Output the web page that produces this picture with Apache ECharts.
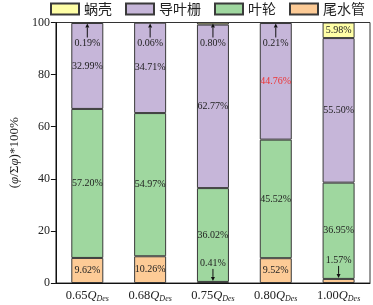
<!DOCTYPE html>
<html>
<head>
  <meta charset="utf-8">
  <title>echarts</title>
  <style type="text/css">
    html, body, #main {
      height: 100%;
      width: 100%;
      margin: 0;
      padding: 0;
      background: #fff;
    }
  </style>
  <script src="https://cdn.jsdelivr.net/npm/echarts@6/dist/echarts.min.js"></script>
</head>
<body>
  <div id="main"></div>
  <script>
    // data
    var categories = ['0.65', '0.68', '0.75', '0.80', '1.00'];
    var volute = [0.19, 0.06, 0.80, 0.21, 5.98];      // 蜗壳
    var guideVane = [32.99, 34.71, 62.77, 44.76, 55.50]; // 导叶栅
    var runner = [57.20, 54.97, 36.02, 45.52, 36.95];  // 叶轮
    var draftTube = [9.62, 10.26, 0.41, 9.52, 1.57];   // 尾水管
    var yTicks = [0, 20, 40, 60, 80, 100];

    var serif = "'Times New Roman', 'Liberation Serif', serif";
    var cjk = "'Noto Sans CJK SC', sans-serif";

    // small shares get an arrow label instead of an inside label
    // row: [category, edge value, share, direction (1 up / -1 down)]
    var arrowData = [];
    categories.forEach(function (c, i) {
      var total = volute[i] + guideVane[i] + runner[i] + draftTube[i];
      if (volute[i] < 1) arrowData.push([c, total, volute[i], 1]);
      if (draftTube[i] < 2) arrowData.push([c, draftTube[i], draftTube[i], -1]);
    });

    function barSeries(name, values, color, labelColors) {
      return {
        name: name,
        type: 'bar',
        stack: 'total',
        barWidth: 32,
        data: values.map(function (v, i) {
          return {
            value: v,
            label: { color: (labelColors && labelColors[i]) || '#222' }
          };
        }),
        itemStyle: { color: color, borderColor: '#3a3a3a', borderWidth: 1 },
        label: {
          show: true,
          position: 'inside',
          fontFamily: serif,
          fontSize: 10,
          formatter: function (p) {
            return p.value >= 2 ? p.value.toFixed(2) + '%' : '';
          }
        }
      };
    }

    var myChart = echarts.init(document.getElementById('main'));
    myChart.setOption({
      animation: false,
      legend: {
        top: 2,
        left: 50,
        width: 330,
        padding: 0,
        itemWidth: 28,
        itemHeight: 11,
        itemGap: 13,
        icon: 'rect',
        data: ['蜗壳', '导叶栅', '叶轮', '尾水管'],
        textStyle: { fontFamily: cjk, fontSize: 14, color: '#222' }
      },
      grid: {
        left: 46,
        right: 3,
        top: 22.5,
        bottom: 22,
        show: true,
        borderColor: '#333',
        borderWidth: 1
      },
      xAxis: {
        type: 'category',
        data: categories,
        axisLine: { lineStyle: { color: '#111', width: 1 } },
        axisTick: { alignWithLabel: true, length: 5, lineStyle: { color: '#111' } },
        axisLabel: {
          interval: 0,
          margin: 5,
          formatter: function (v) { return '{n|' + v + '}{q|Q}{s|Des}'; },
          rich: {
            n: { fontFamily: serif, fontSize: 12.5, color: '#222' },
            q: { fontFamily: serif, fontSize: 12.5, fontStyle: 'italic', color: '#222' },
            s: { fontFamily: serif, fontSize: 8, fontStyle: 'italic', color: '#222', padding: [7, 0, 0, 0] }
          }
        }
      },
      yAxis: {
        type: 'value',
        min: yTicks[0],
        max: yTicks[yTicks.length - 1],
        interval: yTicks[1] - yTicks[0],
        name: '{t|(}{i|φ}{t|/Σ}{i|φ}{t|)*100%}',
        nameLocation: 'middle',
        nameGap: 24,
        nameRotate: 90,
        nameTextStyle: {
          rich: {
            t: { fontFamily: serif, fontSize: 13, color: '#222' },
            i: { fontFamily: serif, fontSize: 13, fontStyle: 'italic', color: '#222' }
          }
        },
        splitLine: { show: false },
        axisLine: { show: true, lineStyle: { color: '#111', width: 1 } },
        axisTick: { show: true, length: 5, lineStyle: { color: '#111' } },
        axisLabel: { fontFamily: serif, fontSize: 12, color: '#222', margin: 6 }
      },
      series: [
        barSeries('尾水管', draftTube, '#fdcb96'),
        barSeries('叶轮', runner, '#9fd79f'),
        barSeries('导叶栅', guideVane, '#c6b6d9', [null, null, null, '#ee3333', null]),
        barSeries('蜗壳', volute, '#ffffa6'),
        {
          type: 'custom',
          silent: true,
          z: 10,
          encode: { x: 0, y: 1 },
          data: arrowData,
          renderItem: function (params, api) {
            var p = api.coord([api.value(0), api.value(1)]);
            var share = api.value(2);
            var up = api.value(3) > 0;
            var labelY = up ? p[1] + 21 : p[1] - 19;
            var lineStart = up ? labelY - 6 : labelY + 6;
            var tip = up ? p[1] + 1 : p[1] - 1;
            var head = up ? tip + 4 : tip - 4;
            return {
              type: 'group',
              children: [
                {
                  type: 'text',
                  style: {
                    x: p[0], y: labelY, text: share.toFixed(2) + '%',
                    align: 'center', verticalAlign: 'middle',
                    fontFamily: serif, fontSize: 10, fill: '#222'
                  }
                },
                {
                  type: 'line',
                  shape: { x1: p[0], y1: lineStart, x2: p[0], y2: head },
                  style: { stroke: '#111', lineWidth: 1 }
                },
                {
                  type: 'polygon',
                  shape: { points: [[p[0] - 2, head], [p[0] + 2, head], [p[0], tip]] },
                  style: { fill: '#111' }
                }
              ]
            };
          }
        }
      ]
    });
  </script>
</body>
</html>
